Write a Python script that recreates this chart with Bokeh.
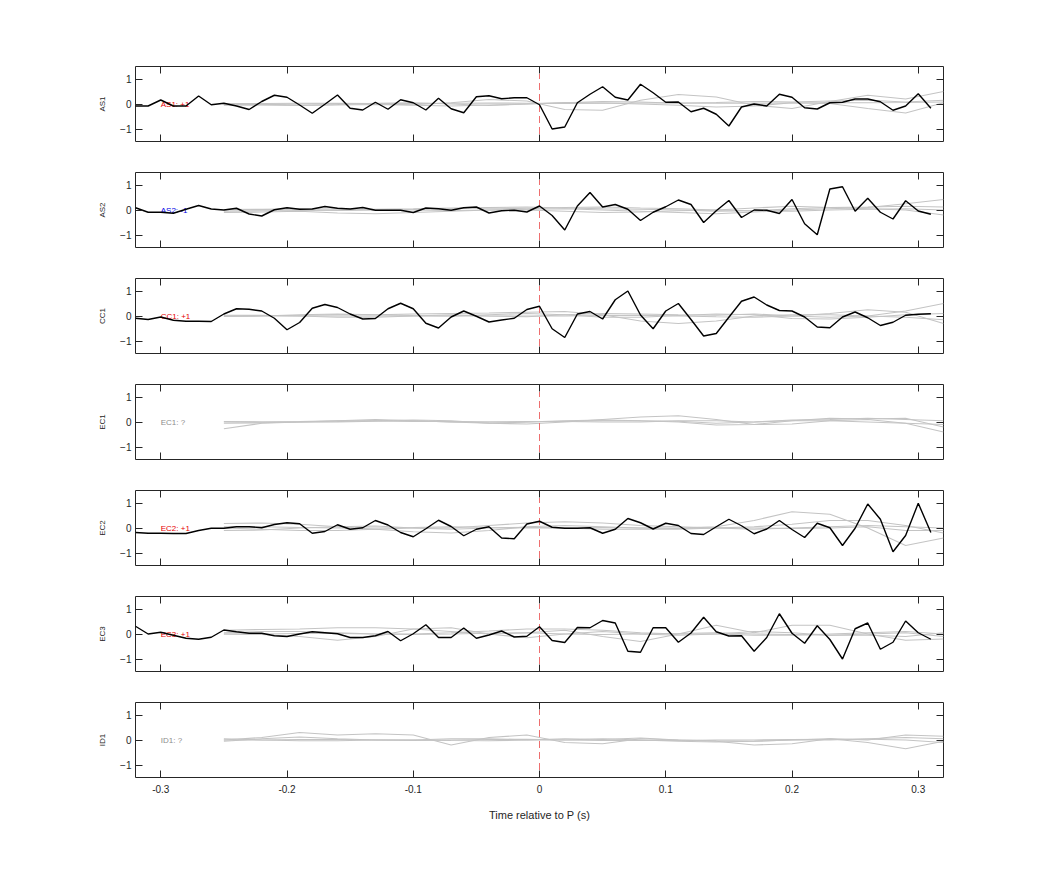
import numpy as np
from bokeh.plotting import figure
from bokeh.layouts import column
from bokeh.models import Range1d, LinearAxis, FixedTicker
from bokeh.core.properties import value
from bokeh.embed import file_html
from bokeh.resources import INLINE

# ---------------- data ----------------
stations = ["AS1", "AS2", "CC1", "EC1", "EC2", "EC3", "ID1"]
label_texts = ["AS1: +1", "AS2: -1", "CC1: +1", "EC1: ?", "EC2: +1", "EC3: +1", "ID1: ?"]
label_colors = ["#e60000", "#0000e6", "#e60000", "#8c8c8c", "#e60000", "#e60000", "#8c8c8c"]

x_ticks = [-0.3, -0.2, -0.1, 0.0, 0.1, 0.2, 0.3]
x_tick_labels = ["-0.3", "-0.2", "-0.1", "0", "0.1", "0.2", "0.3"]
y_ticks = [-1, 0, 1]

# sample times of the observed trace (s)
t_obs = np.round(np.arange(-32, 32) / 100.0, 2)
# sample times of the template traces (s)
t_tmpl = np.round(-0.25 + 0.03 * np.arange(20), 2)

obs_AS1 = [-0.08, -0.08, 0.16, -0.08, -0.08, 0.32, -0.03, 0.03, -0.08, -0.22, 0.10, 0.35, 0.27, -0.04,
           -0.37, -0.01, 0.36, -0.17, -0.24, 0.07, -0.21, 0.17, 0.05, -0.24, 0.23, -0.19, -0.35, 0.29,
           0.33, 0.21, 0.25, 0.25, -0.03, -1.00, -0.92, 0.05, 0.39, 0.69, 0.27, 0.16, 0.79, 0.45,
           0.07, 0.08, -0.31, -0.17, -0.41, -0.88, -0.12, 0.00, -0.08, 0.39, 0.27, -0.15, -0.20,
           0.05, 0.07, 0.20, 0.20, 0.09, -0.25, -0.08, 0.41, -0.17]
obs_AS2 = [0.09, -0.09, -0.09, -0.13, 0.03, 0.18, 0.04, 0.00, 0.07, -0.16, -0.24, 0.01, 0.09, 0.03,
           0.04, 0.14, 0.07, 0.04, 0.10, -0.01, -0.01, -0.01, -0.10, 0.08, 0.05, -0.01, 0.09, 0.12,
           -0.12, -0.03, -0.01, -0.08, 0.16, -0.22, -0.80, 0.16, 0.70, 0.12, 0.22, 0.03, -0.42, -0.09,
           0.13, 0.40, 0.22, -0.50, -0.03, 0.38, -0.30, 0.00, -0.01, -0.14, 0.42, -0.55, -0.99, 0.84,
           0.93, -0.05, 0.47, -0.09, -0.36, 0.37, -0.04, -0.17]
obs_CC1 = [-0.09, -0.14, -0.04, -0.17, -0.21, -0.21, -0.22, 0.08, 0.29, 0.27, 0.20, -0.09, -0.55, -0.26,
           0.31, 0.46, 0.34, 0.08, -0.12, -0.10, 0.29, 0.51, 0.29, -0.29, -0.48, -0.04, 0.20, -0.01,
           -0.24, -0.16, -0.09, 0.26, 0.39, -0.51, -0.86, 0.08, 0.18, -0.12, 0.65, 1.00, 0.04, -0.51,
           0.20, 0.50, -0.14, -0.80, -0.70, -0.05, 0.59, 0.76, 0.44, 0.22, 0.20, -0.04, -0.44, -0.47,
           -0.04, 0.16, -0.07, -0.38, -0.25, 0.03, 0.07, 0.09]
obs_EC1 = None
obs_EC2 = [-0.18, -0.21, -0.21, -0.22, -0.22, -0.10, -0.01, -0.01, 0.05, 0.05, 0.01, 0.14, 0.21, 0.17,
           -0.21, -0.14, 0.13, -0.05, 0.01, 0.30, 0.12, -0.18, -0.35, -0.03, 0.31, 0.06, -0.31, -0.05,
           0.05, -0.40, -0.43, 0.16, 0.27, 0.03, -0.01, -0.01, 0.01, -0.21, -0.05, 0.38, 0.21, -0.04,
           0.19, 0.10, -0.22, -0.26, 0.05, 0.35, 0.09, -0.23, -0.04, 0.30, -0.06, -0.38, 0.19, 0.01,
           -0.70, -0.01, 0.96, 0.35, -0.95, -0.30, 0.99, -0.18]
obs_EC3 = [0.31, 0.00, 0.07, -0.05, -0.17, -0.21, -0.13, 0.16, 0.09, 0.03, 0.03, -0.07, -0.10, 0.00,
           0.09, 0.05, 0.01, -0.14, -0.14, -0.07, 0.10, -0.27, 0.01, 0.37, -0.14, -0.14, 0.24, -0.17,
           -0.04, 0.12, -0.12, -0.09, 0.29, -0.26, -0.34, 0.26, 0.25, 0.54, 0.44, -0.69, -0.73, 0.25,
           0.25, -0.33, 0.04, 0.67, 0.09, -0.08, -0.07, -0.69, -0.14, 0.81, 0.03, -0.37, 0.33, -0.22,
           -1.00, 0.21, 0.44, -0.61, -0.33, 0.52, 0.05, -0.21]
obs_ID1 = None
observed = [obs_AS1, obs_AS2, obs_CC1, obs_EC1, obs_EC2, obs_EC3, obs_ID1]

tmpl_AS1 = [
    [0.02, 0.02, 0.03, 0.03, 0.02, 0.02, 0.03, 0.04, 0.03, 0.02, 0.03, 0.04, 0.04, 0.03, 0.03, 0.04, 0.05, 0.05, 0.06, 0.08],
    [-0.05, -0.03, 0.0, 0.02, 0.0, -0.03, 0.05, 0.18, 0.12, -0.22, -0.25, 0.15, 0.38, 0.28, -0.05, -0.18, 0.10, 0.35, 0.20, 0.50],
    [-0.03, -0.02, -0.05, -0.02, 0.03, 0.05, 0.0, -0.06, 0.0, 0.06, 0.04, 0.0, -0.05, -0.12, -0.08, 0.05, 0.02, -0.18, -0.36, 0.05],
    [0.0, -0.04, -0.06, -0.04, -0.02, -0.05, -0.08, -0.04, 0.0, 0.05, 0.10, 0.08, 0.03, 0.06, 0.10, 0.08, 0.12, 0.15, 0.08, 0.15],
]
tmpl_AS2 = [
    [0.02, 0.03, 0.05, 0.04, 0.03, 0.05, 0.08, 0.10, 0.12, 0.08, 0.05, 0.03, 0.0, -0.05, -0.03, 0.05, 0.10, 0.12, 0.15, 0.12],
    [-0.10, -0.08, -0.05, -0.12, -0.15, -0.10, -0.05, 0.0, 0.03, 0.05, 0.0, -0.05, -0.10, -0.15, -0.08, 0.0, 0.05, 0.10, 0.25, 0.42],
    [0.0, 0.02, 0.0, -0.02, 0.0, 0.02, 0.05, 0.08, 0.05, 0.10, 0.12, 0.08, 0.05, 0.0, 0.08, 0.15, 0.10, 0.05, 0.0, -0.20],
    [-0.05, -0.03, -0.02, 0.0, 0.02, 0.0, -0.02, 0.0, 0.0, -0.05, -0.10, -0.08, -0.03, 0.0, -0.03, -0.05, 0.0, 0.03, 0.05, 0.0],
]
tmpl_CC1 = [
    [0.0, 0.02, 0.03, 0.05, 0.05, 0.08, 0.10, 0.12, 0.15, 0.18, 0.05, -0.20, -0.30, -0.20, 0.0, 0.05, 0.05, 0.0, 0.20, 0.50],
    [0.0, 0.0, 0.0, 0.0, 0.0, 0.0, 0.0, 0.0, 0.0, 0.0, 0.02, 0.03, 0.0, -0.03, -0.05, 0.0, 0.10, 0.25, 0.15, -0.30],
    [-0.02, 0.0, 0.05, 0.08, 0.05, 0.02, 0.0, 0.05, 0.10, 0.05, -0.05, -0.05, 0.02, 0.08, 0.05, -0.10, -0.12, -0.05, 0.05, 0.10],
    [0.03, 0.03, 0.0, -0.05, -0.05, 0.0, 0.05, 0.0, -0.03, 0.05, 0.10, 0.08, 0.05, 0.03, 0.08, 0.0, -0.05, 0.0, -0.05, -0.15],
]
tmpl_EC1 = [
    [-0.27, -0.05, 0.0, 0.02, 0.05, 0.08, 0.05, -0.05, -0.08, 0.0, 0.10, 0.20, 0.25, 0.10, -0.10, -0.08, 0.05, 0.10, -0.05, -0.40],
    [-0.05, -0.03, 0.0, 0.05, 0.10, 0.05, 0.0, -0.05, 0.0, 0.03, 0.05, 0.05, 0.0, -0.12, -0.10, 0.05, 0.15, 0.12, 0.15, -0.20],
    [0.0, 0.0, 0.02, 0.05, 0.05, 0.02, 0.02, 0.0, 0.0, 0.05, 0.08, 0.05, 0.03, -0.05, 0.0, 0.08, 0.10, 0.15, 0.10, 0.05],
    [0.02, 0.0, 0.0, 0.0, 0.03, 0.05, 0.0, 0.0, 0.02, 0.02, 0.0, 0.0, 0.05, 0.05, 0.0, 0.05, 0.05, 0.0, -0.05, -0.10],
]
tmpl_EC2 = [
    [0.18, 0.20, 0.15, 0.05, -0.05, -0.15, -0.20, -0.10, 0.05, 0.10, 0.05, 0.0, 0.0, 0.05, 0.30, 0.65, 0.55, 0.0, -0.70, -0.40],
    [-0.10, -0.08, 0.0, 0.05, 0.08, 0.0, -0.05, 0.0, 0.03, 0.0, -0.05, -0.05, -0.05, 0.0, 0.05, 0.15, 0.30, 0.30, 0.10, -0.20],
    [0.0, -0.05, -0.10, -0.10, -0.05, 0.0, 0.0, 0.10, 0.20, 0.25, 0.20, 0.10, 0.05, 0.0, -0.05, 0.0, 0.05, 0.10, 0.05, 0.0],
    [0.05, 0.05, 0.02, 0.0, 0.0, 0.02, 0.05, 0.02, 0.0, 0.0, 0.02, 0.0, -0.02, 0.0, 0.0, -0.02, 0.0, 0.05, -0.10, -0.10],
]
tmpl_EC3 = [
    [0.15, 0.18, 0.20, 0.25, 0.25, 0.20, 0.10, 0.0, 0.05, 0.15, -0.10, -0.30, 0.0, 0.35, 0.05, 0.35, 0.35, 0.0, -0.25, -0.20],
    [0.0, -0.02, -0.10, -0.25, -0.10, 0.20, 0.25, 0.0, -0.15, 0.0, 0.10, 0.0, -0.05, 0.0, 0.10, 0.05, -0.05, 0.0, 0.05, -0.10],
    [0.05, 0.10, 0.10, 0.05, 0.0, 0.0, 0.05, 0.12, 0.20, 0.20, 0.15, 0.05, 0.0, 0.0, -0.05, -0.05, 0.0, 0.05, 0.10, 0.0],
    [0.0, 0.0, 0.02, 0.02, 0.0, -0.02, 0.0, 0.03, 0.05, 0.0, -0.02, 0.0, 0.02, 0.05, 0.0, -0.02, -0.05, -0.05, -0.10, 0.05],
]
tmpl_ID1 = [
    [0.0, 0.10, 0.30, 0.20, 0.25, 0.20, -0.20, 0.10, 0.20, -0.10, -0.15, 0.05, 0.0, -0.05, -0.20, -0.15, 0.05, -0.10, -0.35, -0.05],
    [-0.05, 0.05, 0.12, 0.05, 0.0, 0.0, 0.05, 0.05, 0.0, 0.0, 0.05, 0.0, -0.05, -0.08, -0.05, 0.0, 0.05, 0.0, 0.20, 0.15],
    [0.0, 0.0, 0.02, 0.02, 0.0, -0.02, 0.0, 0.02, 0.03, 0.0, -0.02, -0.02, -0.02, 0.0, 0.0, 0.02, 0.03, 0.03, 0.0, -0.10],
    [0.05, 0.0, -0.03, -0.03, 0.0, 0.0, -0.02, -0.03, 0.0, 0.05, 0.02, 0.08, 0.0, -0.03, -0.05, 0.0, 0.0, 0.05, 0.10, 0.05],
]
templates = [tmpl_AS1, tmpl_AS2, tmpl_CC1, tmpl_EC1, tmpl_EC2, tmpl_EC3, tmpl_ID1]

event_t = 0.0          # P arrival
event_half = 1.2       # half-height of the P marker
label_t = -0.3         # x position of the polarity label

# ---------------- style ----------------
FONT = "Liberation Sans"
INK = "#262626"


def style_axis(ax, show_labels, tick_vals, overrides=None):
    ax.ticker = FixedTicker(ticks=tick_vals)
    ax.major_tick_in = 7
    ax.major_tick_out = 0
    ax.minor_tick_in = 0
    ax.minor_tick_out = 0
    ax.axis_line_color = None
    ax.major_tick_line_color = INK
    ax.major_tick_line_width = 1
    ax.major_label_text_font = FONT
    ax.major_label_text_color = INK
    ax.major_label_text_font_size = "10px"
    if overrides:
        ax.major_label_overrides = overrides
    if not show_labels:
        ax.major_label_text_font_size = "0px"
        ax.major_label_text_color = None
        ax.major_label_standoff = 0


n = len(stations)
figs = []
x_over = {t: s for t, s in zip(x_ticks, x_tick_labels)}
for i in range(n):
    first = i == 0
    last = i == n - 1
    p = figure(
        title=None,
        frame_width=808, frame_height=75,
        x_range=Range1d(-0.32, 0.32), y_range=Range1d(-1.5, 1.5),
        output_backend="svg", toolbar_location=None,
        min_border_left=135, min_border_right=80,
        min_border_top=66 if first else 15,
        min_border_bottom=70 if last else 16,
        background_fill_color="white", border_fill_color="white",
    )
    p.grid.visible = False
    p.outline_line_color = INK
    p.outline_line_width = 1

    # axes
    style_axis(p.yaxis[0], True, y_ticks)
    p.yaxis[0].major_label_standoff = 4
    p.yaxis[0].axis_label = stations[i]
    p.yaxis[0].axis_label_text_font = FONT
    p.yaxis[0].axis_label_text_font_style = "normal"
    p.yaxis[0].axis_label_text_font_size = "8px"
    p.yaxis[0].axis_label_text_color = INK
    p.yaxis[0].axis_label_standoff = 10

    style_axis(p.xaxis[0], last, x_ticks, x_over)
    if last:
        p.xaxis[0].major_label_standoff = 7
        p.xaxis[0].axis_label = "Time relative to P (s)"
        p.xaxis[0].axis_label_text_font = FONT
        p.xaxis[0].axis_label_text_font_style = "normal"
        p.xaxis[0].axis_label_text_font_size = "11px"
        p.xaxis[0].axis_label_text_color = INK
        p.xaxis[0].axis_label_standoff = 13

    ax_r = LinearAxis()
    style_axis(ax_r, False, y_ticks)
    p.add_layout(ax_r, "right")
    ax_t = LinearAxis()
    style_axis(ax_t, False, x_ticks)
    p.add_layout(ax_t, "above")

    # template traces
    for tr in templates[i]:
        p.line(t_tmpl, tr, line_color="#c4c4c4", line_width=1.1)

    # P marker
    p.segment(x0=[event_t], y0=[-event_half], x1=[event_t], y1=[event_half],
              line_color="#ee6f6f", line_width=1, line_dash="7 4")

    # polarity label
    p.text(x=[label_t], y=[0], text=[label_texts[i]], text_color=label_colors[i],
           text_font=value(FONT), text_font_size="8px",
           text_align="left", text_baseline="middle")

    # observed trace
    if observed[i] is not None:
        p.line(t_obs, observed[i], line_color="black", line_width=1.4)

    figs.append(p)

layout = column(*figs, spacing=0)
open("out.html", "w").write(file_html(layout, INLINE))
